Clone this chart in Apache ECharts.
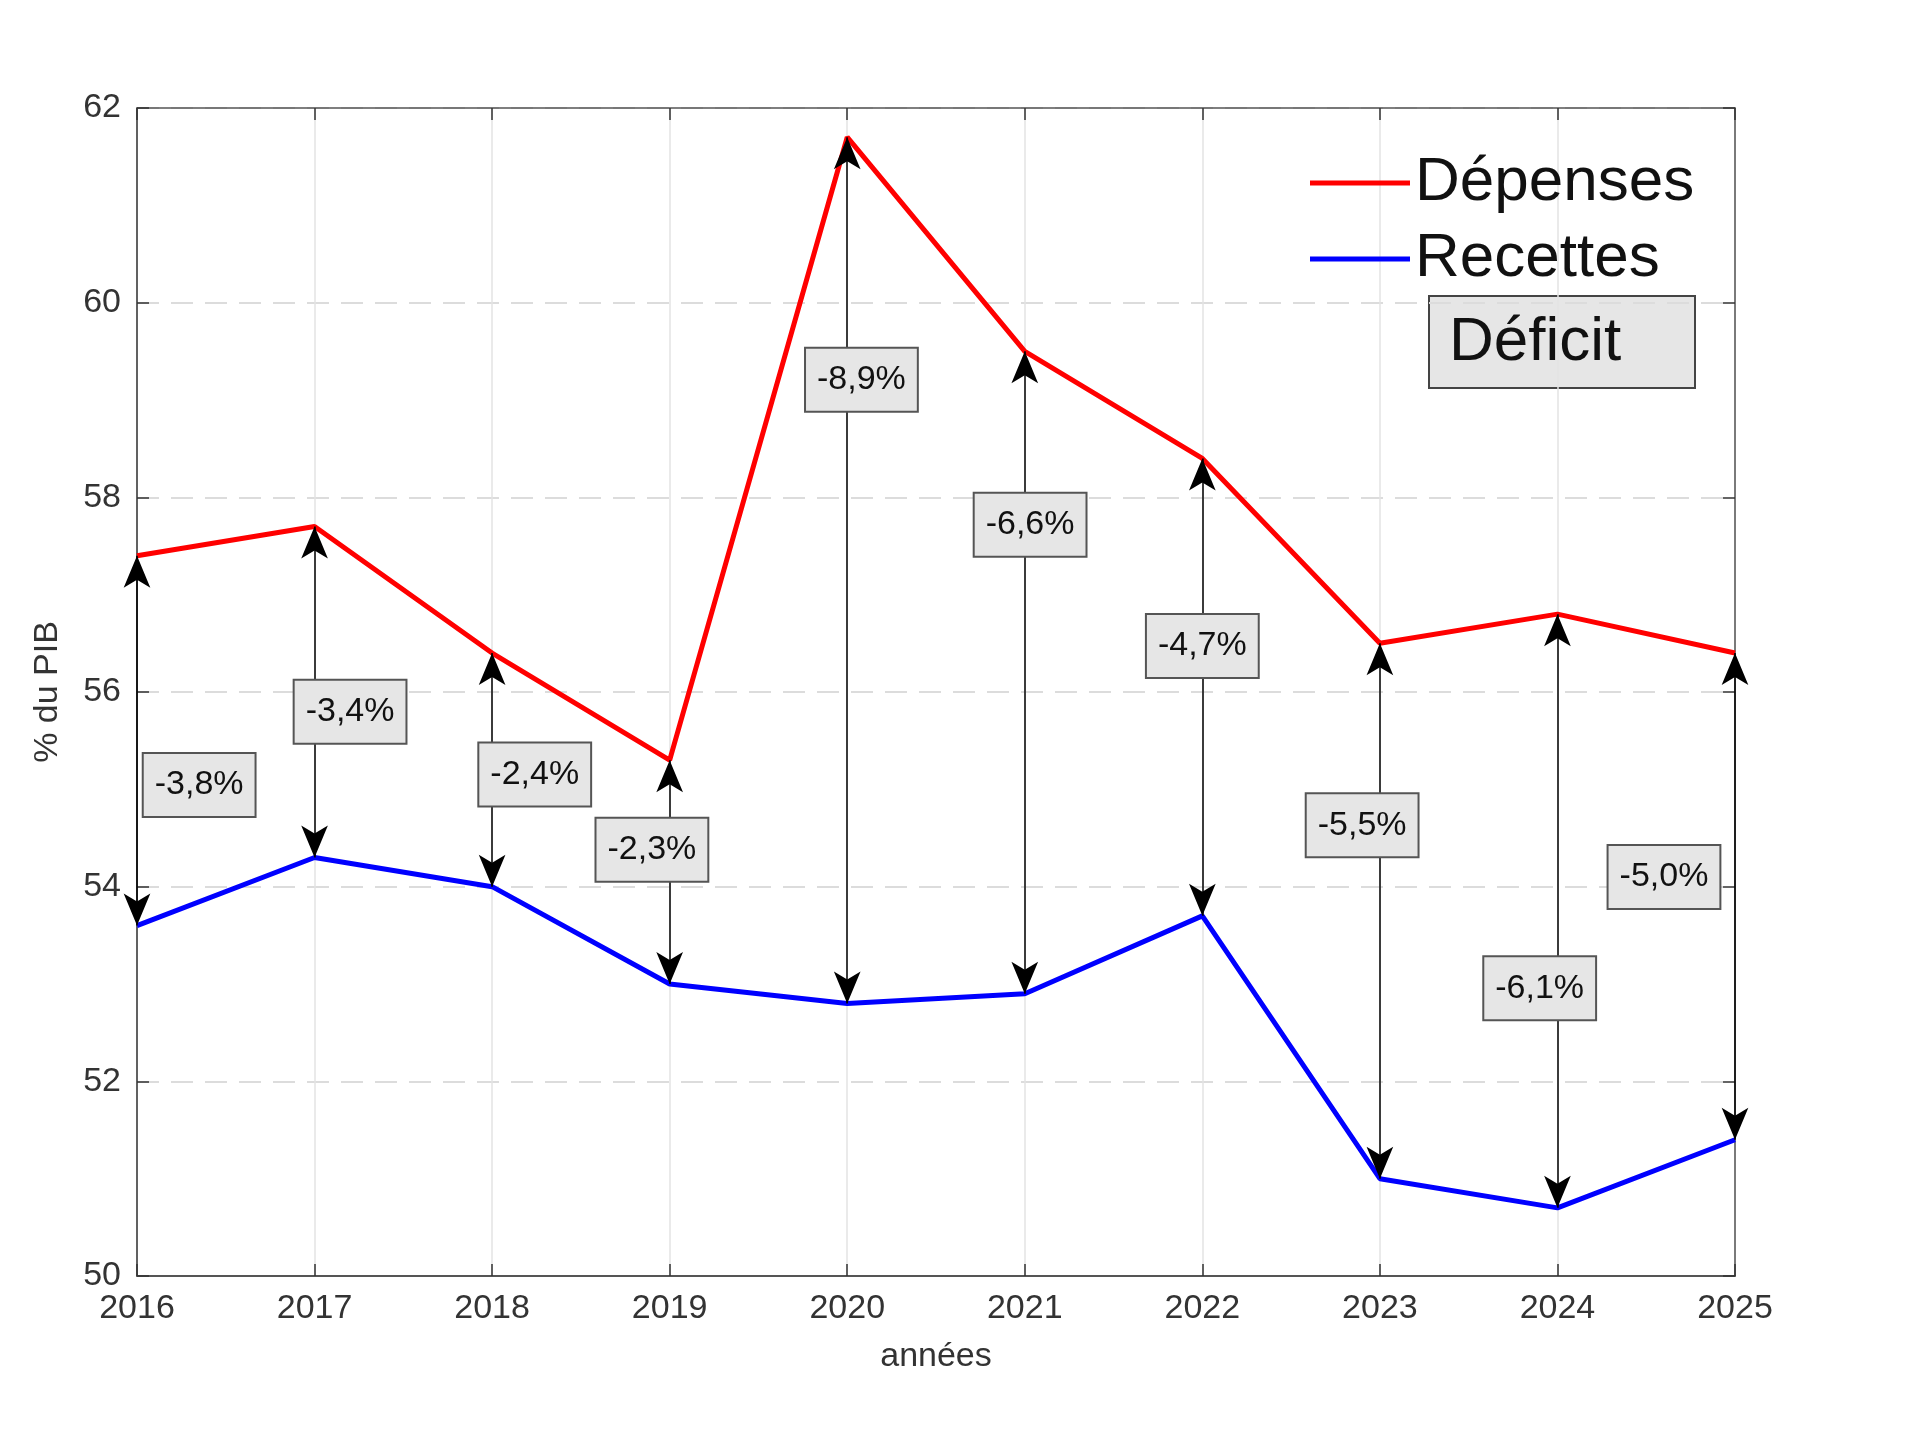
<!DOCTYPE html>
<html>
<head>
<meta charset="utf-8">
<script src="https://cdn.jsdelivr.net/npm/echarts@6/dist/echarts.min.js"></script>
<style>
html,body{margin:0;padding:0;background:#fff;}
#chart{width:1920px;height:1439px;}
</style>
</head>
<body>
<div id="chart"></div>
<script>
// ---- data ----
const years = [2016, 2017, 2018, 2019, 2020, 2021, 2022, 2023, 2024, 2025];
const depenses = [57.4, 57.7, 56.4, 55.3, 61.7, 59.5, 58.4, 56.5, 56.8, 56.4];
const recettes = [53.6, 54.3, 54.0, 53.0, 52.8, 52.9, 53.7, 51.0, 50.7, 51.4];
const yMin = 50, yMax = 62, yStep = 2;
const seriesNames = ['Dépenses', 'Recettes'];
const xTitle = 'années';
const yTitle = '% du PIB';
const boxTitle = 'Déficit';

// ---- layout of deficit label boxes (offset in years, fraction between lines) ----
const labelDx = [0.35, 0.20, 0.24, -0.10, 0.08, 0.03, 0.00, -0.10, -0.10, -0.40];
const labelT  = [0.38, 0.44, 0.48, 0.60, 0.72, 0.73, 0.59, 0.66, 0.37, 0.54];

const FONT = '"Liberation Sans", Arial, Helvetica, sans-serif';
const chart = echarts.init(document.getElementById('chart'));

const fmtDef = (v) => v.toFixed(1).replace('.', ',') + '%';
const labelTexts = years.map((y, i) => fmtDef(recettes[i] - depenses[i]));
const labelData = years.map((y, i) => [y + labelDx[i], recettes[i] + labelT[i] * (depenses[i] - recettes[i])]);

const arrowData = years.map((y, i) => [
  { coord: [y, recettes[i]] },
  { coord: [y, depenses[i]] }
]);

const axisLabelStyle = { color: '#333', fontSize: 34, fontFamily: FONT };

chart.setOption({
  backgroundColor: '#fff',
  animation: false,
  grid: { left: 137, right: 185, top: 108, bottom: 163 },
  legend: {
    data: seriesNames.map((n) => ({ name: n, icon: 'rect' })),
    orient: 'vertical',
    left: 1305,
    top: 146,
    itemWidth: 100,
    itemHeight: 5,
    itemGap: 12,
    textStyle: { fontSize: 62, fontFamily: FONT, color: '#111', lineHeight: 64 },
    selectedMode: false
  },
  xAxis: [{
    type: 'value', min: years[0], max: years[years.length - 1], interval: 1,
    name: xTitle, nameLocation: 'middle', nameGap: 64,
    nameTextStyle: { fontSize: 34, fontFamily: FONT, color: '#333' },
    axisLine: { show: true, lineStyle: { color: '#555', width: 2 } },
    axisTick: { show: true, inside: true, length: 12, lineStyle: { color: '#333', width: 1.5 } },
    axisLabel: Object.assign({ margin: 16, formatter: (v) => String(v) }, axisLabelStyle),
    splitLine: { show: true, lineStyle: { color: '#e3e3e3', width: 1.5 } }
  }, {
    type: 'value', position: 'top', min: years[0], max: years[years.length - 1], interval: 1,
    axisLine: { show: true, lineStyle: { color: '#555', width: 1.5 } },
    axisTick: { show: true, inside: true, length: 12, lineStyle: { color: '#333', width: 1.5 } },
    axisLabel: { show: false },
    splitLine: { show: false }
  }],
  yAxis: [{
    type: 'value', min: yMin, max: yMax, interval: yStep,
    name: yTitle, nameLocation: 'middle', nameGap: 72,
    nameTextStyle: { fontSize: 34, fontFamily: FONT, color: '#333' },
    axisLine: { show: true, lineStyle: { color: '#333', width: 1.5 } },
    axisTick: { show: true, inside: true, length: 12, lineStyle: { color: '#333', width: 1.5 } },
    axisLabel: Object.assign({ margin: 16 }, axisLabelStyle),
    splitLine: { show: true, lineStyle: { color: '#dcdcdc', width: 2, type: [22, 12] } }
  }, {
    type: 'value', position: 'right', min: yMin, max: yMax, interval: yStep,
    axisLine: { show: true, lineStyle: { color: '#555', width: 1.5 } },
    axisTick: { show: true, inside: true, length: 12, lineStyle: { color: '#333', width: 1.5 } },
    axisLabel: { show: false },
    splitLine: { show: false }
  }],
  series: [{
    name: seriesNames[0], type: 'line', symbol: 'none',
    data: years.map((y, i) => [y, depenses[i]]),
    lineStyle: { color: '#ff0000', width: 5 }, itemStyle: { color: '#ff0000' }, z: 3
  }, {
    name: seriesNames[1], type: 'line', symbol: 'none',
    data: years.map((y, i) => [y, recettes[i]]),
    lineStyle: { color: '#0000ff', width: 5 }, itemStyle: { color: '#0000ff' }, z: 3,
    markLine: {
      silent: true,
      symbol: ['arrow', 'arrow'],
      symbolSize: [20, 32],
      lineStyle: { color: '#000', width: 1.5, type: 'solid' },
      label: { show: false },
      emphasis: { disabled: true },
      data: arrowData,
      z: 4
    }
  }, {
    name: 'labels', type: 'custom', z: 10, silent: true, clip: false,
    data: labelData,
    renderItem: (params, api) => {
      const p = api.coord([api.value(0), api.value(1)]);
      return {
        type: 'text', x: p[0], y: p[1],
        style: {
          text: labelTexts[params.dataIndex],
          align: 'center', verticalAlign: 'middle',
          fontSize: 34, fontFamily: FONT, fill: '#111',
          backgroundColor: '#e6e6e6', borderColor: '#555', borderWidth: 2,
          padding: [14, 11]
        }
      };
    }
  }],
  graphic: [{
    type: 'group', z: 20,
    children: [{
      type: 'rect',
      shape: { x: 1429, y: 296, width: 266, height: 92 },
      style: { fill: '#e6e6e6', stroke: '#444', lineWidth: 2 }
    }, {
      type: 'text',
      style: { x: 1449, y: 343, text: boxTitle, fontSize: 62, fontFamily: FONT, fill: '#111', verticalAlign: 'middle', align: 'left' }
    }]
  }]
});
</script>
</body>
</html>
